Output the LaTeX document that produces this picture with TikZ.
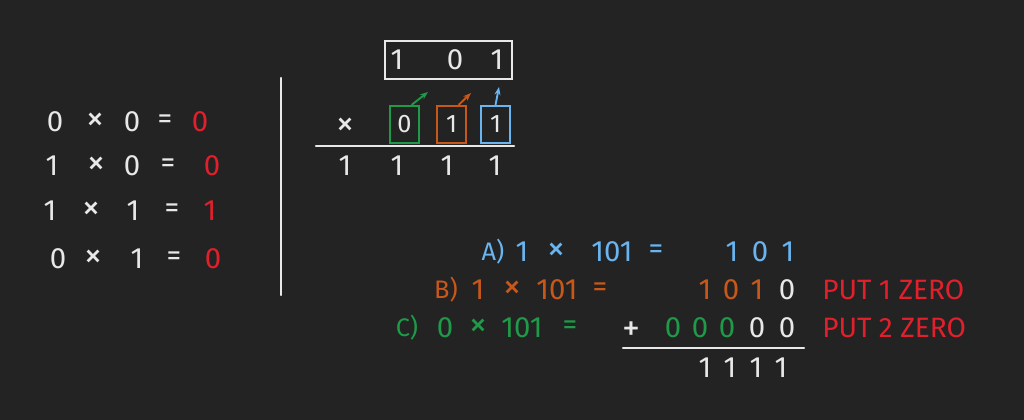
\documentclass[tikz,border=0pt]{standalone}
\usepackage{fontspec}
\setmainfont{Fira Sans}
\usetikzlibrary{arrows.meta}
\definecolor{board}{HTML}{232323}
\definecolor{chalk}{HTML}{E8E8E8}
\definecolor{redc}{HTML}{E2202C}
\definecolor{bluec}{HTML}{6AB4F0}
\definecolor{orangec}{HTML}{C8581A}
\definecolor{greenc}{HTML}{1F9A48}

\begin{document}
\begin{tikzpicture}[x=0.75pt,y=-0.75pt]
\tikzstyle{every node}=[text=chalk,inner sep=0pt,font=\fontsize{22}{26}\selectfont];
\tikzstyle{small}=[font=\fontsize{19}{22}\selectfont];
\tikzstyle{sign}=[font=\fontsize{27}{30}\selectfont];
\tikzstyle{note}=[text=redc,anchor=west,font=\fontsize{21}{24}\selectfont];
\tikzstyle{digitbox}=[draw,line width=1.4pt,minimum width=22pt,minimum height=28pt,font=\fontsize{19}{22}\selectfont];
\tikzstyle{chalkline}=[chalk,line width=1.6pt,line cap=round];
\fill[board] (0,0) rectangle (1024,420);
\useasboundingbox (0,0) rectangle (1024,420);
% truth table
\node (a1) at (55,122) {0};
\node [sign] (x1) at (95,122) {×};
\node (b1) at (132,122) {0};
\node (e1) at (165,122) {=};
\node [text=redc] (r1) at (200,122) {0};
\node (a2) at (52,166) {1};
\node [sign] (x2) at (96,166) {×};
\node (b2) at (132,166) {0};
\node (e2) at (168,166) {=};
\node [text=redc] (r2) at (212,166) {0};
\node (a3) at (50,211) {1};
\node [sign] (x3) at (91,211) {×};
\node (b3) at (133,211) {1};
\node (e3) at (172,211) {=};
\node [text=redc] (r3) at (210,211) {1};
\node (a4) at (58,259) {0};
\node [sign] (x4) at (93,259) {×};
\node (b4) at (137,259) {1};
\node (e4) at (174,259) {=};
\node [text=redc] (r4) at (213,259) {0};
\draw[chalkline] (281,78) -- (281,295);
% multiplication
\node [draw=chalk,line width=1.6pt,minimum width=95pt,minimum height=29pt] (top) at (448.5,60) {};
\node (t1) at (397,60) {1};
\node (t2) at (455,60) {0};
\node (t3) at (497,60) {1};
\node [sign] (times) at (345,127) {×};
\node [digitbox,draw=greenc] (gbox) at (404.5,124.5) {0};
\node [digitbox,draw=orangec] (obox) at (451.5,124.5) {1};
\node [digitbox,draw=bluec] (bbox) at (495.5,124.5) {1};
\coordinate (gtip) at (428,92);
\coordinate (otip) at (471,93);
\coordinate (btip) at (499,87);
\draw[greenc,line width=1.4pt,-{Stealth[length=6pt]}] (gbox.70) -- (gtip);
\draw[orangec,line width=1.4pt,-{Stealth[length=6pt]}] (obox.70) -- (otip);
\draw[bluec,line width=1.4pt,-{Stealth[length=6pt]}] (bbox.north) -- (btip);
\draw[chalkline] (316,146) -- (514,146);
\node (p1) at (345,166) {1};
\node (p2) at (397,166) {1};
\node (p3) at (447,166) {1};
\node (p4) at (495,166) {1};
% partial products
\node [small,text=bluec] (la) at (493,252) {A)};
\node [text=bluec] (la1) at (522,252) {1};
\node [sign,text=bluec] (lax) at (556,252) {×};
\node [text=bluec] (lan) at (612,252) {101};
\node [text=bluec] (lae) at (656,252) {=};
\node [text=bluec] (ra1) at (732,252) {1};
\node [text=bluec] (ra2) at (760,252) {0};
\node [text=bluec] (ra3) at (788,252) {1};
\node [small,text=orangec] (lb) at (446,290) {B)};
\node [text=orangec] (lb1) at (478,290) {1};
\node [sign,text=orangec] (lbx) at (512,290) {×};
\node [text=orangec] (lbn) at (557,290) {101};
\node [text=orangec] (lbe) at (600,290) {=};
\node [text=orangec] (rb1) at (705,290) {1};
\node [text=orangec] (rb2) at (731,290) {0};
\node [text=orangec] (rb3) at (757,290) {1};
\node (rb4) at (787,290) {0};
\node [note] (zb) at (822,290) {PUT 1 ZERO};
\node [small,text=greenc] (lc) at (407,328) {C)};
\node [text=greenc] (lc0) at (445,328) {0};
\node [sign,text=greenc] (lcx) at (478,328) {×};
\node [text=greenc] (lcn) at (522,328) {101};
\node [text=greenc] (lce) at (570,328) {=};
\node [sign] (plus) at (631,331) {+};
\node [text=greenc] (rc1) at (673,328) {0};
\node [text=greenc] (rc2) at (700,328) {0};
\node [text=greenc] (rc3) at (727,328) {0};
\node (rc4) at (757,328) {0};
\node (rc5) at (787,328) {0};
\node [note] (zc) at (822,328) {PUT 2 ZERO};
\draw[chalkline] (623,348) -- (804,348);
\node (s1) at (705,368) {1};
\node (s2) at (730,368) {1};
\node (s3) at (756,368) {1};
\node (s4) at (781,368) {1};
\end{tikzpicture}
\end{document}
